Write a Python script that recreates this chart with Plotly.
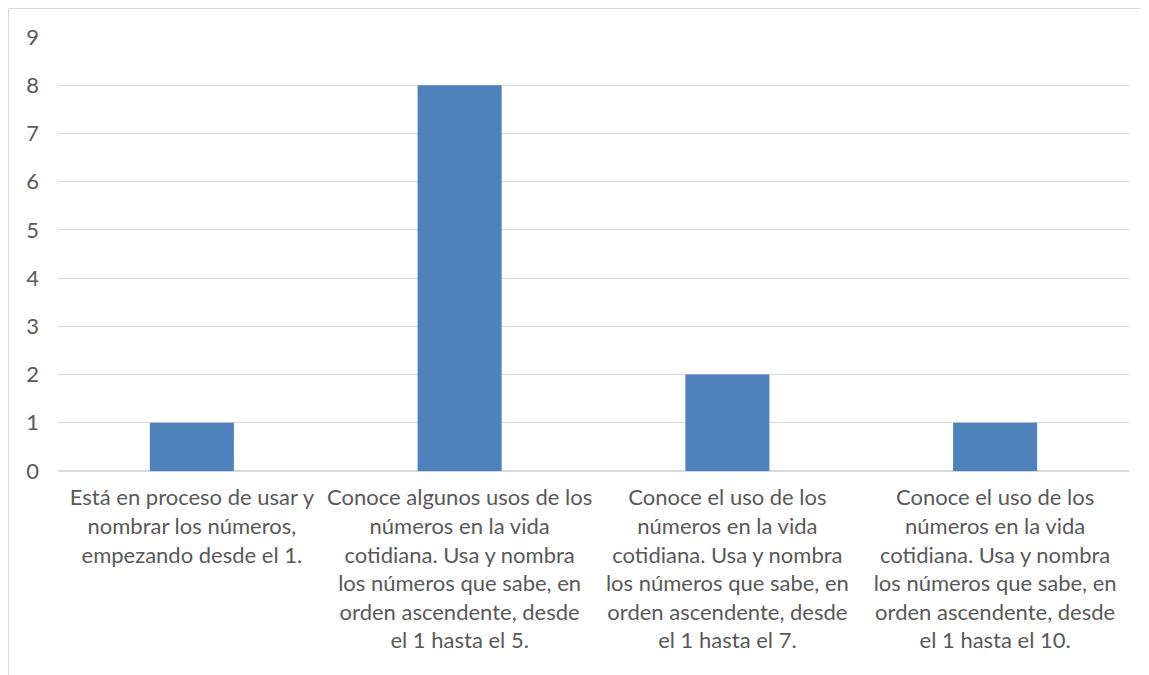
import plotly.graph_objects as go

categories = [
    "Está en proceso de usar y<br>nombrar los números,<br>empezando desde el 1.",
    "Conoce algunos usos de los<br>números en la vida<br>cotidiana. Usa y nombra<br>los números que sabe, en<br>orden ascendente, desde<br>el 1 hasta el 5.",
    "Conoce el uso de los<br>números en la vida<br>cotidiana. Usa y nombra<br>los números que sabe, en<br>orden ascendente, desde<br>el 1 hasta el 7.",
    "Conoce el uso de los<br>números en la vida<br>cotidiana. Usa y nombra<br>los números que sabe, en<br>orden ascendente, desde<br>el 1 hasta el 10.",
]
values = [1, 8, 2, 1]
y_ticks = list(range(0, 10))

# page body has an 8px margin; figure coordinates are page - 8
W, H = 1141, 667
L, R, T, B = 50, 20, 29, 204
pw, ph = W - L - R, H - T - B

fig = go.Figure(go.Bar(x=categories, y=values, marker_color="#4F81BD",
                       marker_line_width=0))

fig.update_layout(
    width=W, height=H,
    margin=dict(l=L, r=R, t=T, b=B),
    paper_bgcolor="white", plot_bgcolor="white",
    bargap=0.686,
    font=dict(family="Lato", size=22, color="#595959"),
    showlegend=False,
)
fig.update_xaxes(showgrid=False, showline=True, linecolor="#D9D9D9", linewidth=1,
                 tickangle=0, ticks="", ticklabelstandoff=7)
fig.update_yaxes(range=[0, 9], tickvals=y_ticks, showgrid=True, gridcolor="#D9D9D9",
                 gridwidth=1, zeroline=True, zerolinecolor="#D9D9D9", showline=False,
                 ticks="", ticklabelstandoff=18)

# outer chart frame
x0 = (0.5 - L) / pw
x1 = (W + 5 - L) / pw
y1 = 1 + (T - 0.5) / ph
y0 = -(H + 5 - (T + ph)) / ph
fig.add_shape(type="rect", xref="paper", yref="paper", x0=x0, x1=x1, y0=y0, y1=y1,
              line=dict(color="#D9D9D9", width=1), fillcolor="rgba(0,0,0,0)", layer="below")

fig.write_html("out.html")
